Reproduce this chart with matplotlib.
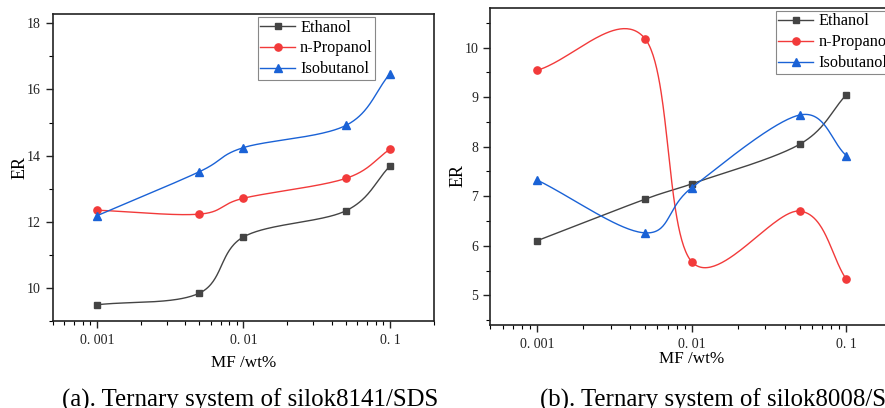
import numpy as np
import matplotlib
matplotlib.use("Agg")
import matplotlib.pyplot as plt
from matplotlib.ticker import FixedLocator, NullFormatter, LogLocator

plt.rcParams['font.family'] = ['Liberation Serif', 'DejaVu Serif']

mf = [0.001, 0.005, 0.01, 0.05, 0.1]
series_names = ["Ethanol", "n-Propanol", "Isobutanol"]

# Panel (a): silok8141/SDS
a_ethanol = [9.49, 9.84, 11.54, 12.33, 13.68]
a_propanol = [12.35, 12.23, 12.71, 13.31, 14.19]
a_isobutanol = [12.18, 13.51, 14.24, 14.91, 16.47]

# Panel (b): silok8008/SDS
b_ethanol = [6.10, 6.94, 7.25, 8.05, 9.05]
b_propanol = [9.54, 10.18, 5.68, 6.70, 5.32]
b_isobutanol = [7.33, 6.26, 7.17, 8.64, 7.82]

x_ticks = [0.001, 0.01, 0.1]
x_ticklabels = ["0. 001", "0. 01", "0. 1"]
caption_a = "(a). Ternary system of silok8141/SDS"
caption_b = "(b). Ternary system of silok8008/SDS"

colors = ["#444444", "#f23a3a", "#1a62d6"]
markers = ["s", "o", "^"]
msizes = [4.6, 5.2, 5.6]


def smooth_curve(ax, x, y, nseg=60):
    # Catmull-Rom style spline through the points in display space
    fig = ax.figure
    fig.canvas.draw()
    P = ax.transData.transform(np.column_stack([x, y]))
    n = len(P)
    ext = np.vstack([2 * P[0] - P[1], P, 2 * P[-1] - P[-2]])
    T = (ext[2:] - ext[:-2]) / 2.0
    out = []
    s = np.linspace(0, 1, nseg)[:, None]
    for i in range(n - 1):
        p0, p1 = P[i], P[i + 1]
        c1 = p0 + T[i] / 3.0
        c2 = p1 - T[i + 1] / 3.0
        seg = ((1 - s) ** 3) * p0 + 3 * ((1 - s) ** 2) * s * c1 + 3 * (1 - s) * s ** 2 * c2 + s ** 3 * p1
        out.append(seg if i == 0 else seg[1:])
    pts = np.vstack(out)
    data = ax.transData.inverted().transform(pts)
    return data[:, 0], data[:, 1]


fig = plt.figure(figsize=(8.85, 4.08), dpi=100)
ax1 = fig.add_axes([0.0595, 0.2132, 0.4309, 0.7525])
ax2 = fig.add_axes([0.554, 0.2034, 0.455, 0.777])


def setup(ax, ylim, ymajor, yminor, xlabelpad, ylabel_y):
    ax.set_xscale('log')
    ax.set_xlim(0.0005, 0.2)
    ax.set_ylim(*ylim)
    ax.xaxis.set_major_locator(FixedLocator(x_ticks))
    ax.set_xticklabels(x_ticklabels)
    ax.xaxis.set_minor_locator(LogLocator(base=10, subs=np.arange(2, 10)))
    ax.xaxis.set_minor_formatter(NullFormatter())
    ax.yaxis.set_major_locator(FixedLocator(ymajor))
    ax.yaxis.set_minor_locator(FixedLocator(yminor))
    ax.tick_params(axis='both', which='major', direction='out', length=5, width=1,
                   labelsize=10, colors='#222222', top=False, right=False)
    ax.tick_params(axis='both', which='minor', direction='out', length=3, width=0.8,
                   top=False, right=False)
    ax.tick_params(axis='x', which='major', pad=4)
    for s in ax.spines.values():
        s.set_linewidth(1.2)
        s.set_color('#222222')
    ax.set_xlabel("MF /wt%", fontsize=12.3, labelpad=xlabelpad)
    ax.set_ylabel("ER", fontsize=13, labelpad=-1.5, y=ylabel_y)


setup(ax1, (9.0, 18.28), [10, 12, 14, 16, 18], [9, 11, 13, 15, 17], 6, 0.5)
setup(ax2, (4.4, 10.8), [5, 6, 7, 8, 9, 10], [4.5, 5.5, 6.5, 7.5, 8.5, 9.5, 10.5], 0, 0.473)

for ax, data in [(ax1, [a_ethanol, a_propanol, a_isobutanol]),
                 (ax2, [b_ethanol, b_propanol, b_isobutanol])]:
    for name, yv, c, m, ms in zip(series_names, data, colors, markers, msizes):
        sx, sy = smooth_curve(ax, np.array(mf), np.array(yv))
        ax.plot(sx, sy, color=c, lw=1.0)
        ax.plot(mf, yv, linestyle='none', marker=m, color=c, markersize=ms)
        ax.plot([], [], color=c, lw=1.0, marker=m, markersize=ms, label=name)

for ax, loc in [(ax1, (0.538, 0.990)), (ax2, (0.7095, 0.9905))]:
    leg = ax.legend(loc='upper left', bbox_to_anchor=loc, fontsize=11.7, frameon=True,
                    fancybox=False, edgecolor='#888888', framealpha=1, borderpad=0.15,
                    labelspacing=0.3, handlelength=2.15, handletextpad=0.3, borderaxespad=0)
    leg.get_frame().set_linewidth(0.8)

fig.text(250 / 885, 1 - 407 / 408, caption_a, fontsize=17.9, ha='center', va='baseline')
fig.text(540 / 885, 1 - 407 / 408, caption_b, fontsize=17.9, ha='left', va='baseline')

fig.savefig("out.png", dpi=100)
